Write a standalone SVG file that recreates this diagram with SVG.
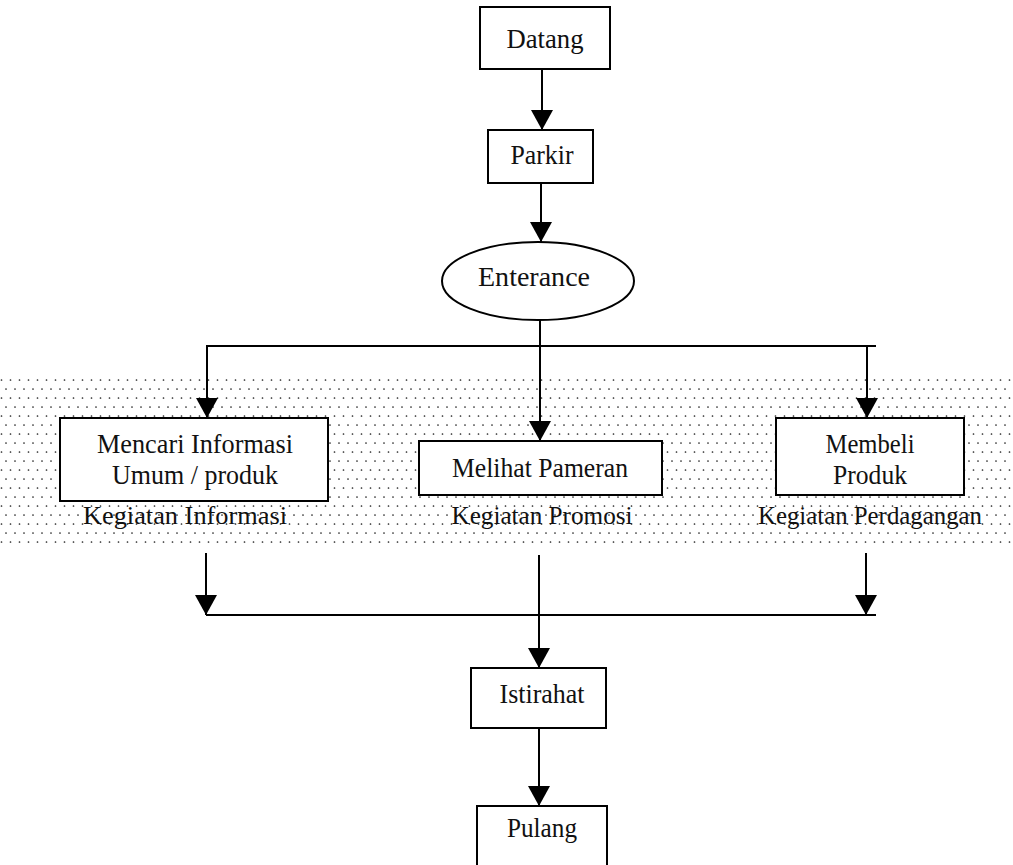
<svg xmlns="http://www.w3.org/2000/svg" width="1013" height="865" viewBox="0 0 1013 865">
  <style>
    .box { fill: #fff; stroke: #000; stroke-width: 2; }
    .lbl { font-family: "Liberation Serif", "Times New Roman", serif; font-size: 27px; fill: #111; text-anchor: middle; }
    .cap { font-family: "Liberation Serif", "Times New Roman", serif; font-size: 25px; fill: #111; text-anchor: middle; }
    .wire { fill: none; stroke: #000; stroke-width: 2; }
    .arrow { marker-end: url(#head); }
  </style>
  <defs>
    <!-- solid triangular arrowhead, tip at the line end -->
    <marker id="head" markerUnits="userSpaceOnUse" markerWidth="20" markerHeight="22" viewBox="0 0 20 22" refX="20" refY="11" orient="auto">
      <path d="M0,0 L20,11 L0,22 Z" fill="#000"/>
    </marker>
    <!-- staggered dot screen for the activity band -->
    <pattern id="dots" width="9" height="18" patternUnits="userSpaceOnUse">
      <circle cx="1.5" cy="2" r="0.85" fill="#222"/>
      <circle cx="6" cy="11" r="0.85" fill="#222"/>
    </pattern>
  </defs>

  <!-- dotted activity band -->
  <rect id="band" x="0" y="378" width="1013" height="170" fill="url(#dots)"/>

  <!-- connectors -->
  <g id="connectors">
    <line class="wire arrow" x1="542" y1="69" x2="542" y2="130" />
    <line class="wire arrow" x1="541" y1="183" x2="541" y2="242" />
    <line class="wire" x1="540" y1="320" x2="540" y2="346" />
    <line class="wire" x1="206" y1="346" x2="876" y2="346" />
    <line class="wire arrow" x1="207" y1="346" x2="207" y2="418" />
    <line class="wire arrow" x1="540" y1="346" x2="540" y2="441" />
    <line class="wire arrow" x1="867" y1="346" x2="867" y2="418" />
    <line class="wire arrow" x1="206" y1="553" x2="206" y2="615" />
    <line class="wire arrow" x1="866" y1="553" x2="866" y2="615" />
    <line class="wire" x1="206" y1="615" x2="876" y2="615" />
    <line class="wire arrow" x1="539" y1="555" x2="539" y2="668" />
    <line class="wire arrow" x1="539" y1="728" x2="539" y2="806" />
  </g>

  <g id="datang">
    <rect class="box" x="480" y="7" width="130" height="62"/>
    <text class="lbl" x="545" y="48" textLength="77" lengthAdjust="spacingAndGlyphs">Datang</text>
  </g>

  <g id="parkir">
    <rect class="box" x="488" y="130" width="105" height="53"/>
    <text class="lbl" x="542" y="164" textLength="63" lengthAdjust="spacingAndGlyphs">Parkir</text>
  </g>

  <g id="enterance">
    <ellipse class="box" cx="538" cy="281" rx="96" ry="39"/>
    <text class="lbl" x="534" y="286" textLength="112" lengthAdjust="spacingAndGlyphs">Enterance</text>
  </g>

  <g id="informasi">
    <rect class="box" x="60" y="418" width="268" height="83"/>
    <text class="lbl" x="195" y="453" textLength="196" lengthAdjust="spacingAndGlyphs">Mencari Informasi</text>
    <text class="lbl" x="195" y="484" textLength="166" lengthAdjust="spacingAndGlyphs">Umum / produk</text>
    <text class="cap" x="185" y="524" textLength="204" lengthAdjust="spacingAndGlyphs">Kegiatan Informasi</text>
  </g>

  <g id="promosi">
    <rect class="box" x="419" y="441" width="243" height="54"/>
    <text class="lbl" x="540" y="477" textLength="176" lengthAdjust="spacingAndGlyphs">Melihat Pameran</text>
    <text class="cap" x="542" y="524" textLength="181" lengthAdjust="spacingAndGlyphs">Kegiatan Promosi</text>
  </g>

  <g id="perdagangan">
    <rect class="box" x="776" y="418" width="188" height="77"/>
    <text class="lbl" x="870" y="453" textLength="89" lengthAdjust="spacingAndGlyphs">Membeli</text>
    <text class="lbl" x="870" y="484" textLength="74" lengthAdjust="spacingAndGlyphs">Produk</text>
    <text class="cap" x="870" y="524" textLength="224" lengthAdjust="spacingAndGlyphs">Kegiatan Perdagangan</text>
  </g>

  <g id="istirahat">
    <rect class="box" x="471" y="668" width="135" height="60"/>
    <text class="lbl" x="542" y="703" textLength="85" lengthAdjust="spacingAndGlyphs">Istirahat</text>
  </g>

  <g id="pulang">
    <rect class="box" x="477" y="806" width="130" height="70"/>
    <text class="lbl" x="542" y="837" textLength="70" lengthAdjust="spacingAndGlyphs">Pulang</text>
  </g>
</svg>
